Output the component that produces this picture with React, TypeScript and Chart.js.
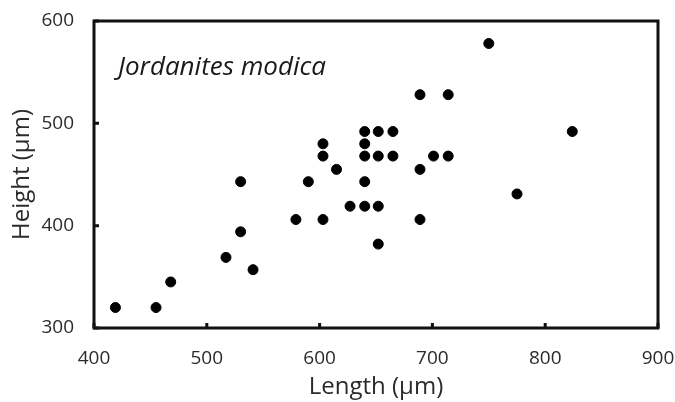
import React, { useEffect, useRef } from "react";
import { Chart, registerables } from "chart.js";

Chart.register(...registerables);

const lengths = [419, 455, 468, 517, 530, 541, 530, 579, 590, 603, 603, 603, 615, 627, 640, 652, 640, 640, 640, 640, 652, 652, 652, 665, 665, 689, 689, 689, 701, 714, 714, 750, 775, 824];
const heights = [320, 320, 345, 369, 394, 357, 443, 406, 443, 406, 468, 480, 455, 419, 419, 419, 443, 468, 480, 492, 492, 468, 382, 492, 468, 528, 455, 406, 468, 468, 528, 578, 431, 492];

const xTicks = [400, 500, 600, 700, 800, 900];
const yTicks = [300, 400, 500, 600];
const xTitle = "Length (μm)";
const yTitle = "Height (μm)";
const annotationText = "Jordanites modica";

const FONT = "'Open Sans', 'Noto Sans', sans-serif";
const TEXT = "#2b2b2b";

const framePlugin = {
  id: "frame",
  afterDraw(chart: any) {
    const { ctx, chartArea } = chart;
    const { left, top, right, bottom } = chartArea;
    ctx.save();
    ctx.strokeStyle = "#111";
    ctx.lineWidth = 3;
    ctx.strokeRect(left, top, right - left, bottom - top);
    const xs = chart.scales.x;
    const ys = chart.scales.y;
    ctx.beginPath();
    xTicks.forEach((v) => {
      const px = xs.getPixelForValue(v);
      ctx.moveTo(px, bottom);
      ctx.lineTo(px, bottom - 5);
    });
    yTicks.forEach((v) => {
      const py = ys.getPixelForValue(v);
      ctx.moveTo(left, py);
      ctx.lineTo(left + 5, py);
    });
    ctx.stroke();
    ctx.fillStyle = "#1a1a1a";
    ctx.font = `italic 26px ${FONT}`;
    ctx.textBaseline = "middle";
    ctx.textAlign = "left";
    ctx.fillText(annotationText, left + 24, top + 47);
    ctx.restore();
  },
};

export default function App() {
  const ref = useRef<HTMLCanvasElement | null>(null);
  useEffect(() => {
    document.body.style.margin = "0";
    const canvas = ref.current;
    if (!canvas) return;
    const chart = new Chart(canvas, {
      type: "scatter",
      data: {
        datasets: [
          {
            data: lengths.map((x, i) => ({ x, y: heights[i] })),
            backgroundColor: "#000",
            borderColor: "#000",
            pointRadius: 5,
            pointHoverRadius: 5,
          },
        ],
      },
      options: {
        animation: false,
        responsive: false,
        devicePixelRatio: 1,
        layout: { padding: { top: 21, right: 17, left: 0, bottom: 0 } },
        plugins: { legend: { display: false }, tooltip: { enabled: false } },
        scales: {
          x: {
            type: "linear",
            min: 400,
            max: 900,
            afterBuildTicks: (s: any) => {
              s.ticks = xTicks.map((v) => ({ value: v }));
            },
            afterFit: (s: any) => {
              s.height = 74;
              s.paddingLeft = 0;
              s.paddingRight = 0;
            },
            grid: { display: false, drawTicks: false },
            border: { display: false },
            ticks: { padding: 19, color: TEXT, font: { family: FONT, size: 19 } },
            title: {
              display: true,
              text: xTitle,
              color: TEXT,
              font: { family: FONT, size: 24 },
              padding: { top: 0, bottom: 0 },
            },
          },
          y: {
            type: "linear",
            min: 300,
            max: 600,
            afterBuildTicks: (s: any) => {
              s.ticks = yTicks.map((v) => ({ value: v }));
            },
            afterFit: (s: any) => {
              s.width = 94;
              s.paddingTop = 0;
              s.paddingBottom = 0;
            },
            grid: { display: false, drawTicks: false },
            border: { display: false },
            ticks: { padding: 20, color: TEXT, font: { family: FONT, size: 19 } },
            title: {
              display: true,
              text: yTitle,
              color: TEXT,
              font: { family: FONT, size: 24 },
              padding: { top: 8, bottom: 0 },
            },
          },
        },
      },
      plugins: [framePlugin],
    });
    return () => chart.destroy();
  }, []);
  return (
    <div style={{ width: 675, height: 402 }}>
      <canvas ref={ref} width={675} height={402} style={{ display: "block" }} />
    </div>
  );
}
